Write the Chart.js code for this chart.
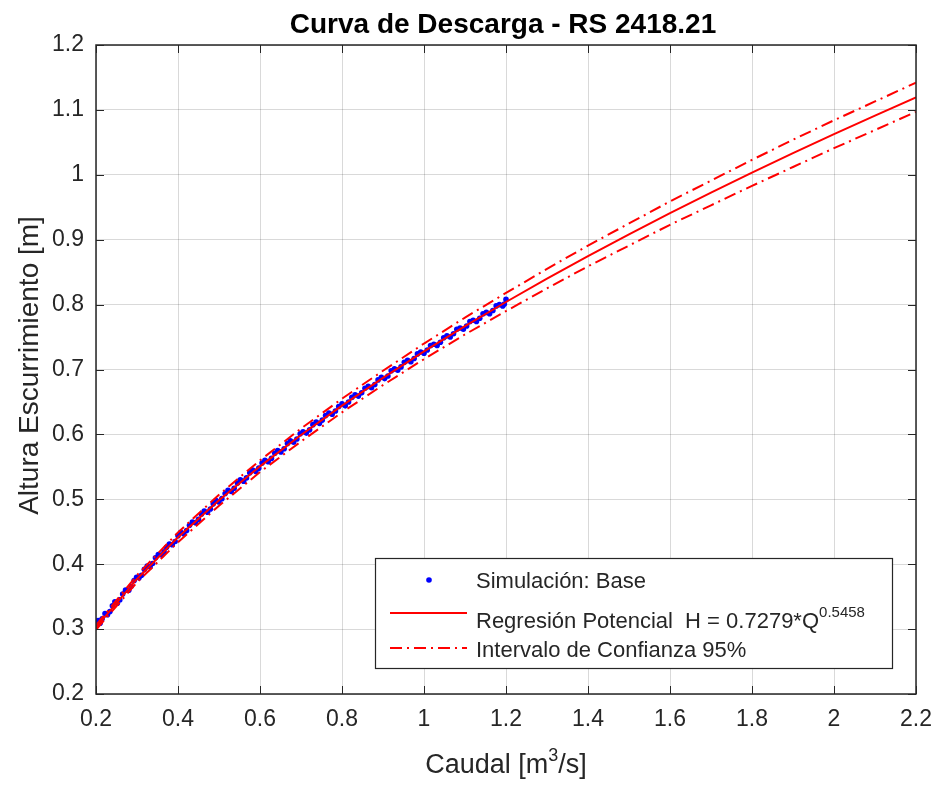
<!DOCTYPE html>
<html>
<head>
<meta charset="utf-8">
<script src="https://cdn.jsdelivr.net/npm/chart.js@4.4.0/dist/chart.umd.min.js"></script>
<style>
  html, body { margin: 0; padding: 0; background: #fff; }
  #wrap { width: 936px; height: 785px; }
</style>
</head>
<body>
<div id="wrap"><canvas id="c" width="936" height="785"></canvas></div>
<script>
"use strict";

// simulación: caudal Q [m3/s] y altura H [m]
const simQ = [0.200, 0.205, 0.210, 0.215, 0.222, 0.228, 0.234, 0.240, 0.246, 0.252,
  0.258, 0.265, 0.272, 0.280, 0.286, 0.293, 0.299, 0.305, 0.311, 0.318,
  0.325, 0.332, 0.338, 0.345, 0.352, 0.360, 0.366, 0.372, 0.379, 0.386,
  0.393, 0.400, 0.407, 0.414, 0.421, 0.428, 0.435, 0.443, 0.450, 0.457,
  0.464, 0.472, 0.479, 0.486, 0.493, 0.500, 0.507, 0.515, 0.522, 0.530,
  0.537, 0.545, 0.552, 0.560, 0.567, 0.575, 0.582, 0.590, 0.597, 0.605,
  0.612, 0.620, 0.628, 0.636, 0.643, 0.651, 0.659, 0.667, 0.674, 0.682,
  0.690, 0.698, 0.705, 0.713, 0.721, 0.729, 0.737, 0.745, 0.752, 0.760,
  0.768, 0.776, 0.784, 0.792, 0.800, 0.808, 0.816, 0.824, 0.832, 0.840,
  0.848, 0.856, 0.864, 0.872, 0.880, 0.888, 0.896, 0.904, 0.912, 0.920,
  0.928, 0.936, 0.944, 0.952, 0.960, 0.968, 0.976, 0.984, 0.992, 1.000,
  1.008, 1.016, 1.024, 1.032, 1.040, 1.048, 1.056, 1.064, 1.072, 1.080,
  1.088, 1.096, 1.104, 1.112, 1.120, 1.128, 1.136, 1.144, 1.152, 1.160,
  1.168, 1.176, 1.184, 1.192, 1.196, 1.200];
const simH = [0.306, 0.313, 0.309, 0.316, 0.324, 0.322, 0.327, 0.336, 0.342, 0.340,
  0.345, 0.354, 0.360, 0.360, 0.366, 0.375, 0.380, 0.379, 0.383, 0.392,
  0.397, 0.396, 0.401, 0.410, 0.415, 0.414, 0.419, 0.426, 0.431, 0.430,
  0.435, 0.444, 0.449, 0.447, 0.452, 0.460, 0.465, 0.464, 0.469, 0.477,
  0.482, 0.480, 0.485, 0.493, 0.498, 0.496, 0.501, 0.509, 0.514, 0.512,
  0.517, 0.525, 0.530, 0.528, 0.533, 0.541, 0.545, 0.543, 0.548, 0.556,
  0.560, 0.558, 0.563, 0.571, 0.575, 0.573, 0.578, 0.586, 0.590, 0.588,
  0.593, 0.601, 0.604, 0.602, 0.607, 0.615, 0.619, 0.617, 0.622, 0.629,
  0.633, 0.631, 0.636, 0.643, 0.647, 0.644, 0.650, 0.657, 0.661, 0.659,
  0.664, 0.671, 0.674, 0.672, 0.677, 0.684, 0.688, 0.686, 0.690, 0.698,
  0.701, 0.699, 0.704, 0.711, 0.714, 0.712, 0.717, 0.724, 0.727, 0.725,
  0.730, 0.737, 0.739, 0.737, 0.742, 0.749, 0.752, 0.750, 0.755, 0.762,
  0.764, 0.762, 0.767, 0.774, 0.776, 0.774, 0.779, 0.786, 0.788, 0.786,
  0.791, 0.798, 0.800, 0.798, 0.801, 0.808];

// regresión potencial y banda de confianza 95%
const fitQ = [0.2, 0.3, 0.4, 0.5, 0.6, 0.7, 0.8, 0.9, 1.0, 1.1, 1.2,
  1.3, 1.4, 1.5, 1.6, 1.7, 1.8, 1.9, 2.0, 2.1, 2.2];
const fitH = [0.3025, 0.3773, 0.4415, 0.4987, 0.5508, 0.5991, 0.6444, 0.6872, 0.7279, 0.7668, 0.8040,
  0.8400, 0.8746, 0.9082, 0.9408, 0.9724, 1.0033, 1.0333, 1.0626, 1.0913, 1.1194];
const ciUpper = [0.306, 0.383, 0.449, 0.507, 0.560, 0.609, 0.655, 0.698, 0.740, 0.780, 0.818,
  0.855, 0.891, 0.925, 0.959, 0.991, 1.023, 1.054, 1.084, 1.113, 1.142];
const ciLower = [0.299, 0.372, 0.434, 0.490, 0.542, 0.589, 0.634, 0.676, 0.716, 0.754, 0.790,
  0.825, 0.859, 0.891, 0.923, 0.953, 0.983, 1.012, 1.041, 1.069, 1.097];

const xTicks = [0.2, 0.4, 0.6, 0.8, 1.0, 1.2, 1.4, 1.6, 1.8, 2.0, 2.2];
const yTicks = [0.2, 0.3, 0.4, 0.5, 0.6, 0.7, 0.8, 0.9, 1.0, 1.1, 1.2];

const FONT = "'Liberation Sans', Arial, Helvetica, sans-serif";
const INK = "#262626";
const RED = "#ff0000";
const BLUE = "#0000ff";
const DASHDOT = [12, 5, 2, 5];

function pairs(xs, ys) {
  return xs.map((x, i) => ({ x: x, y: ys[i] }));
}

function fmtTick(v) {
  return String(Number(v.toFixed(1)));
}

// dibuja trozos de texto seguidos (para superíndices)
function drawRuns(ctx, x, y, runs) {
  let cx = x;
  runs.forEach((r) => {
    ctx.font = r.font;
    ctx.fillText(r.text, cx, y + (r.dy || 0));
    cx += ctx.measureText(r.text).width;
  });
  return cx;
}

function runsWidth(ctx, runs) {
  let w = 0;
  runs.forEach((r) => {
    ctx.font = r.font;
    w += ctx.measureText(r.text).width;
  });
  return w;
}

const frame = {
  id: "frame",
  afterDraw(chart) {
    const ctx = chart.ctx;
    const a = chart.chartArea;
    const sx = chart.scales.x;
    const sy = chart.scales.y;
    ctx.save();

    // caja y marcas hacia dentro
    ctx.strokeStyle = INK;
    ctx.lineWidth = 1.5;
    ctx.setLineDash([]);
    ctx.strokeRect(a.left, a.top, a.right - a.left, a.bottom - a.top);
    const TL = 8;
    ctx.lineWidth = 1;
    ctx.beginPath();
    xTicks.forEach((v) => {
      const px = Math.round(sx.getPixelForValue(v)) + 0.5;
      ctx.moveTo(px, a.bottom); ctx.lineTo(px, a.bottom - TL);
      ctx.moveTo(px, a.top); ctx.lineTo(px, a.top + TL);
    });
    yTicks.forEach((v) => {
      const py = Math.round(sy.getPixelForValue(v)) + 0.5;
      ctx.moveTo(a.left, py); ctx.lineTo(a.left + TL, py);
      ctx.moveTo(a.right, py); ctx.lineTo(a.right - TL, py);
    });
    ctx.stroke();

    // título
    const midX = (a.left + a.right) / 2;
    ctx.fillStyle = "#000";
    ctx.textBaseline = "alphabetic";
    ctx.textAlign = "center";
    ctx.font = "bold 28px " + FONT;
    ctx.fillText("Curva de Descarga - RS 2418.21", midX - 3, 33);

    // etiqueta eje x con superíndice
    ctx.fillStyle = INK;
    ctx.textAlign = "left";
    const xl = [
      { text: "Caudal [m", font: "27px " + FONT },
      { text: "3", font: "18px " + FONT, dy: -12 },
      { text: "/s]", font: "27px " + FONT },
    ];
    drawRuns(ctx, midX - runsWidth(ctx, xl) / 2, 773, xl);

    // etiqueta eje y
    ctx.save();
    ctx.translate(38, (a.top + a.bottom) / 2 - 4);
    ctx.rotate(-Math.PI / 2);
    ctx.textAlign = "center";
    ctx.font = "28px " + FONT;
    ctx.fillText("Altura Escurrimiento [m]", 0, 0);
    ctx.restore();

    // leyenda
    const L = 375, T = 558, R = 892, B = 668;
    ctx.fillStyle = "#fff";
    ctx.fillRect(L, T, R - L, B - T);
    ctx.strokeStyle = INK;
    ctx.lineWidth = 1.2;
    ctx.strokeRect(L + 0.5, T + 0.5, R - L, B - T);

    ctx.fillStyle = BLUE;
    ctx.beginPath();
    ctx.arc(429, 580, 2.8, 0, Math.PI * 2);
    ctx.fill();

    ctx.strokeStyle = RED;
    ctx.lineWidth = 2;
    ctx.beginPath();
    ctx.moveTo(390, 613); ctx.lineTo(467, 613);
    ctx.stroke();
    ctx.setLineDash(DASHDOT);
    ctx.beginPath();
    ctx.moveTo(390, 648); ctx.lineTo(467, 648);
    ctx.stroke();
    ctx.setLineDash([]);

    ctx.fillStyle = INK;
    ctx.textAlign = "left";
    const lf = "22px " + FONT;
    ctx.font = lf;
    ctx.fillText("Simulación: Base", 476, 588);
    drawRuns(ctx, 476, 628, [
      { text: "Regresión Potencial  H = 0.7279*Q", font: lf },
      { text: "0.5458", font: "15px " + FONT, dy: -11 },
    ]);
    ctx.font = lf;
    ctx.fillText("Intervalo de Confianza 95%", 476, 657);

    ctx.restore();
  },
};

new Chart(document.getElementById("c"), {
  data: {
    datasets: [
      {
        type: "scatter",
        label: "Simulación: Base",
        data: pairs(simQ, simH),
        backgroundColor: BLUE,
        borderWidth: 0,
        pointRadius: 2.8,
        order: 3,
      },
      {
        type: "line",
        label: "Regresión Potencial",
        data: pairs(fitQ, fitH),
        borderColor: RED,
        borderWidth: 2,
        pointRadius: 0,
        fill: false,
        order: 1,
      },
      {
        type: "line",
        label: "IC superior",
        data: pairs(fitQ, ciUpper),
        borderColor: RED,
        borderWidth: 2,
        borderDash: DASHDOT,
        pointRadius: 0,
        fill: false,
        order: 2,
      },
      {
        type: "line",
        label: "IC inferior",
        data: pairs(fitQ, ciLower),
        borderColor: RED,
        borderWidth: 2,
        borderDash: DASHDOT,
        pointRadius: 0,
        fill: false,
        order: 2,
      },
    ],
  },
  options: {
    responsive: false,
    animation: false,
    layout: { padding: { top: 45, right: 20, left: 0, bottom: 0 } },
    plugins: {
      legend: { display: false },
      title: { display: false },
      tooltip: { enabled: false },
    },
    scales: {
      x: {
        type: "linear",
        min: 0.2,
        max: 2.2,
        afterFit: (s) => { s.height = 91; s.paddingLeft = 0; s.paddingRight = 0; },
        afterBuildTicks: (s) => { s.ticks = xTicks.map((v) => ({ value: v })); },
        border: { display: false },
        grid: { color: "rgba(0,0,0,0.15)", lineWidth: 1, drawTicks: false },
        ticks: {
          color: INK,
          padding: 12,
          maxRotation: 0,
          autoSkip: false,
          font: { family: FONT, size: 23 },
          callback: fmtTick,
        },
      },
      y: {
        type: "linear",
        min: 0.2,
        max: 1.2,
        afterFit: (s) => { s.width = 96; s.paddingTop = 0; s.paddingBottom = 0; },
        afterBuildTicks: (s) => { s.ticks = yTicks.map((v) => ({ value: v })); },
        border: { display: false },
        grid: { color: "rgba(0,0,0,0.15)", lineWidth: 1, drawTicks: false },
        ticks: {
          color: INK,
          padding: 12,
          autoSkip: false,
          font: { family: FONT, size: 23 },
          callback: fmtTick,
        },
      },
    },
  },
  plugins: [frame],
});
</script>
</body>
</html>
